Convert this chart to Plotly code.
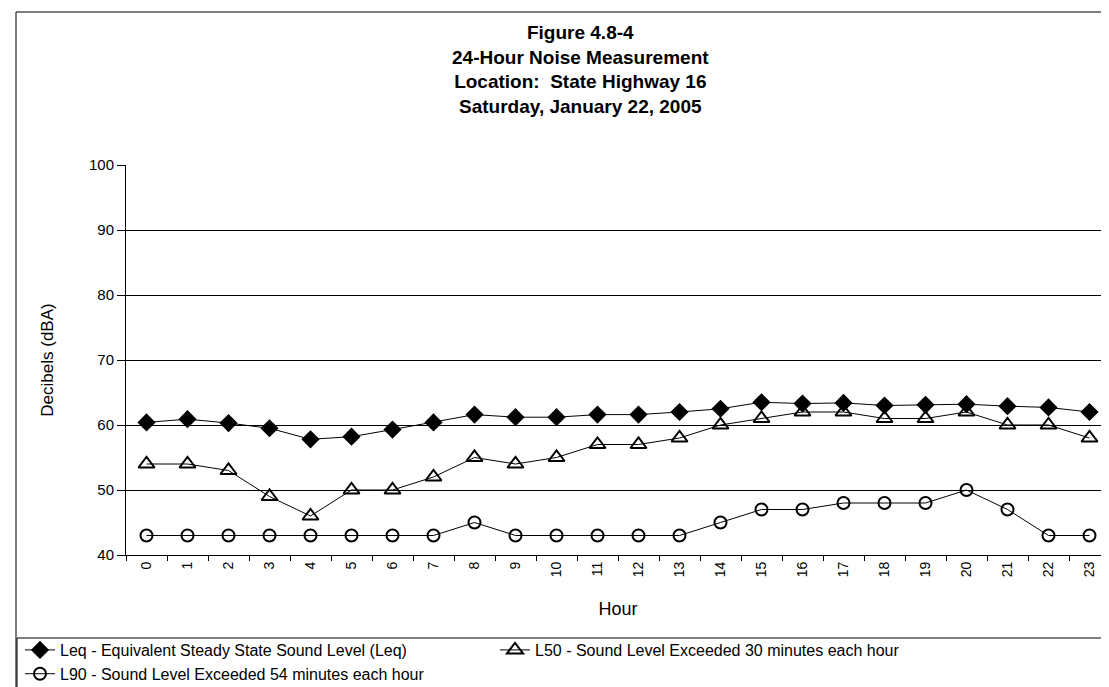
import plotly.graph_objects as go

hours = [str(h) for h in range(24)]
leq = [60.4, 60.9, 60.3, 59.5, 57.8, 58.2, 59.3, 60.4, 61.6, 61.2, 61.2, 61.6,
       61.6, 62.0, 62.5, 63.5, 63.3, 63.4, 63.0, 63.1, 63.2, 62.9, 62.7, 62.0]
l50 = [54, 54, 53, 49, 46, 50, 50, 52, 55, 54, 55, 57,
       57, 58, 60, 61, 62, 62, 61, 61, 62, 60, 60, 58]
l90 = [43, 43, 43, 43, 43, 43, 43, 43, 45, 43, 43, 43,
       43, 43, 45, 47, 47, 48, 48, 48, 50, 47, 43, 43]

names = ["Leq - Equivalent Steady State Sound Level (Leq)",
         "L50 - Sound Level Exceeded 30 minutes each hour",
         "L90 - Sound Level Exceeded 54 minutes each hour"]
title_lines = ["Figure 4.8-4", "24-Hour Noise Measurement",
               "Location:  State Highway 16", "Saturday, January 22, 2005"]

FONT = "Arial, Liberation Sans, sans-serif"
W, H = 1109, 687
L, R, T, B = 118, 7, 157, 140
PW, PH = W - L - R, H - T - B


def px(xp):
    return (xp - L) / PW


def py(yp):
    return (H - B - yp) / PH


fig = go.Figure()
fig.add_trace(go.Scatter(x=hours, y=leq, name=names[0], mode="lines+markers",
                         line=dict(color="black", width=1),
                         marker=dict(symbol="diamond", size=14, color="black")))
fig.add_trace(go.Scatter(x=hours, y=l50, name=names[1], mode="lines+markers",
                         line=dict(color="black", width=1),
                         marker=dict(symbol="triangle-up-open", size=14, color="black",
                                     line=dict(width=2, color="black"))))
fig.add_trace(go.Scatter(x=hours, y=l90, name=names[2], mode="lines+markers",
                         line=dict(color="black", width=1),
                         marker=dict(symbol="circle-open", size=12, color="black",
                                     line=dict(width=2, color="black"))))

# outer frame of the figure (left and top edges, as in the scan)
fig.add_shape(type="line", xref="paper", yref="paper",
              x0=px(8), x1=px(8), y0=py(4), y1=py(686),
              line=dict(color="black", width=1))
fig.add_shape(type="line", xref="paper", yref="paper",
              x0=px(8), x1=px(1108), y0=py(4), y1=py(4),
              line=dict(color="black", width=1))
# legend box
fig.add_shape(type="rect", xref="paper", yref="paper",
              x0=px(9), x1=px(1105), y0=py(630), y1=py(685),
              line=dict(color="black", width=1))

fig.add_annotation(text="<b>" + "<br>".join(title_lines) + "</b>",
                   xref="paper", yref="paper", x=px(572), y=py(62),
                   xanchor="center", yanchor="middle", showarrow=False,
                   font=dict(size=19, family=FONT, color="black"))

fig.update_layout(
    width=W, height=H,
    paper_bgcolor="white", plot_bgcolor="white",
    margin=dict(l=L, r=R, t=T, b=B),
    font=dict(family=FONT, color="black", size=14),
    showlegend=True,
    legend=dict(orientation="h", xref="container", yref="container",
                x=12 / W, xanchor="left", y=1 - 625 / H, yanchor="top",
                borderwidth=0, bgcolor="rgba(0,0,0,0)",
                entrywidth=430, entrywidthmode="pixels",
                font=dict(size=16, family=FONT, color="black"),
                tracegroupgap=0),
)
fig.update_xaxes(type="category", range=[-0.5, 23.5], tickangle=-90,
                 showline=True, linecolor="black", linewidth=1,
                 ticks="outside", tickson="boundaries", ticklen=5, tickcolor="black",
                 showgrid=False, zeroline=False,
                 tickfont=dict(size=14),
                 title=dict(text="Hour", font=dict(size=18), standoff=26))
fig.update_yaxes(range=[40, 100], dtick=10, tick0=40,
                 showline=True, linecolor="black", linewidth=1,
                 ticks="outside", ticklen=8, tickcolor="black",
                 showgrid=True, gridcolor="black", gridwidth=1, zeroline=False,
                 tickfont=dict(size=15),
                 title=dict(text="Decibels (dBA)", font=dict(size=17), standoff=31))

fig.write_html("out.html")
